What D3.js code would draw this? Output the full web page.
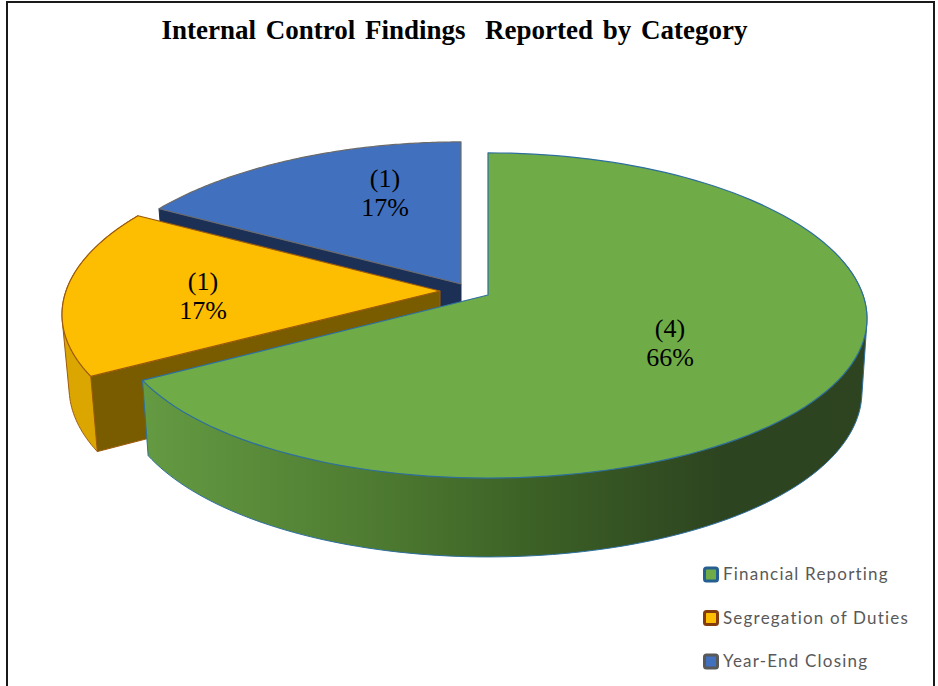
<!DOCTYPE html>
<html><head><meta charset="utf-8">
<script src="https://cdn.jsdelivr.net/npm/d3@7/dist/d3.min.js"></script>
<style>html,body{margin:0;padding:0;background:#fff;overflow:hidden}svg{display:block}</style>
</head><body>
<script>
// ---- data ----
const categories = ["Financial Reporting", "Segregation of Duties", "Year-End Closing"];
const values = [4, 1, 1];
const percentLabels = ["66%", "17%", "17%"];
const chartTitle = "Internal Control Findings  Reported by Category";

// ---- styles ----
const topColors = ["#6fab46", "#fdbd00", "#4170bf"];
const edgeColors = ["#2e6f9e", "#9c5a0c", "#6b6b6b"];
const rimColors = [null, "#dca600", "#2f5597"];
const cutColors = ["#3f6528", "#7a5c00", "#1c2f55"];
const legendBorders = ["#255e91", "#843c0c", "#595959"];

const W = 938, H = 686;
const svg = d3.select("body").append("svg").attr("width", W).attr("height", H);
const defs = svg.append("defs");
const grad = defs.append("linearGradient").attr("id", "greenSide")
  .attr("gradientUnits", "userSpaceOnUse").attr("x1", 146).attr("x2", 866).attr("y1", 0).attr("y2", 0);
[[0, "#649a42"], [0.3, "#4f7d32"], [0.55, "#3b5f25"], [0.8, "#2d4420"], [1, "#2e4420"]]
  .forEach(([o, c]) => grad.append("stop").attr("offset", o).attr("stop-color", c));

// frame
svg.append("rect").attr("x", 7).attr("y", 2).attr("width", 927).attr("height", H + 20)
  .attr("fill", "#fff").attr("stroke", "#1a1a1a").attr("stroke-width", 2);

// title
svg.append("text").attr("x", 454.5).attr("y", 39).attr("text-anchor", "middle")
  .attr("font-family", "'Liberation Serif'").attr("font-weight", 700).attr("font-size", 27)
  .attr("fill", "#000").style("white-space", "pre").style("word-spacing", "3px").text(chartTitle);

// ---- perspective pie ----
const perspX = 0.145, perspY = 0.126;
const depth = 72;
const topRy = 160, bottomRy = 166;
const apexes = [{ x: 488, y: 295 }, { x: 440, y: 291 }, { x: 461, y: 284 }];
const radii = [
  { top: [370, 375], bottom: [364, 370] },
  { top: [374, 374], bottom: [367, 367] },
  { top: [374, 374], bottom: [367, 367] }
];
const labelAt = [{ x: 670, y: 343 }, { x: 203, y: 296 }, { x: 385, y: 193 }];

function project(angle, frac, i, level) {
  const u = Math.sin(angle) * frac, v = -Math.cos(angle) * frac;
  const rx = radii[i][level][u < 0 ? 0 : 1];
  const ry = level === "top" ? topRy : bottomRy;
  const dy = level === "top" ? 0 : depth;
  return [apexes[i].x + rx * u / (1 - perspX * v),
          apexes[i].y + dy + ry * v / (1 - perspY * v)];
}
const arcs = d3.pie().sort(null)(values);
const path = d3.line();
function rim(a0, a1, i, level) {
  const n = 120;
  return d3.range(n + 1).map(k => project(a0 + (a1 - a0) * k / n, 1, i, level));
}
const g = svg.append("g").attr("stroke-linejoin", "round");

[2, 1, 0].forEach(i => {
  const a = arcs[i];
  const apexTop = project(0, 0, i, "top"), apexBot = project(0, 0, i, "bottom");
  // outer wall: the area swept between the upper and lower rims
  if (i < 2) {
    const from = i === 0 ? Math.PI * 0.4 : a.startAngle;
    const to = i === 0 ? a.endAngle : a.endAngle;
    const hull = d3.polygonHull(rim(from, to, i, "top").concat(rim(from, to, i, "bottom")));
    g.append("path").attr("d", path(hull) + "Z")
      .attr("fill", i === 0 ? "url(#greenSide)" : rimColors[i])
      .attr("stroke", edgeColors[i]).attr("stroke-width", 1);
  }
  // cut face along the slice's starting edge (visible for the exploded slices)
  if (i > 0) {
    g.append("path").attr("d", path([apexTop, project(a.startAngle, 1, i, "top"),
        project(a.startAngle, 1, i, "bottom"), apexBot]) + "Z")
      .attr("fill", cutColors[i]).attr("stroke", i === 1 ? edgeColors[1] : cutColors[2]).attr("stroke-width", 1);
  }
  // top surface
  g.append("path").attr("d", path([apexTop].concat(rim(a.startAngle, a.endAngle, i, "top"))) + "Z")
    .attr("fill", topColors[i]).attr("stroke", edgeColors[i]).attr("stroke-width", 1.2);
});

// data labels
values.forEach((v, i) => {
  const t = svg.append("text").attr("text-anchor", "middle")
    .attr("font-family", "'Liberation Serif'").attr("font-size", 26).attr("fill", "#000");
  t.append("tspan").attr("x", labelAt[i].x).attr("y", labelAt[i].y - 6).text(`(${v})`);
  t.append("tspan").attr("x", labelAt[i].x).attr("y", labelAt[i].y + 23).text(percentLabels[i]);
});

// legend
const legendY = d3.scalePoint().domain(categories).range([574, 661]);
const lg = svg.append("g").selectAll("g").data(categories).join("g")
  .attr("transform", d => `translate(703,${legendY(d)})`);
lg.append("rect").attr("x", 1.5).attr("y", -6).attr("width", 13).attr("height", 13).attr("rx", 2)
  .attr("fill", (d, i) => topColors[i]).attr("stroke", (d, i) => legendBorders[i]).attr("stroke-width", 3);
lg.append("text").attr("x", 20).attr("y", 6)
  .attr("font-family", "Lato").attr("font-size", 17).attr("letter-spacing", 1.2).attr("fill", "#595959")
  .text(d => d);
</script>
</body></html>
